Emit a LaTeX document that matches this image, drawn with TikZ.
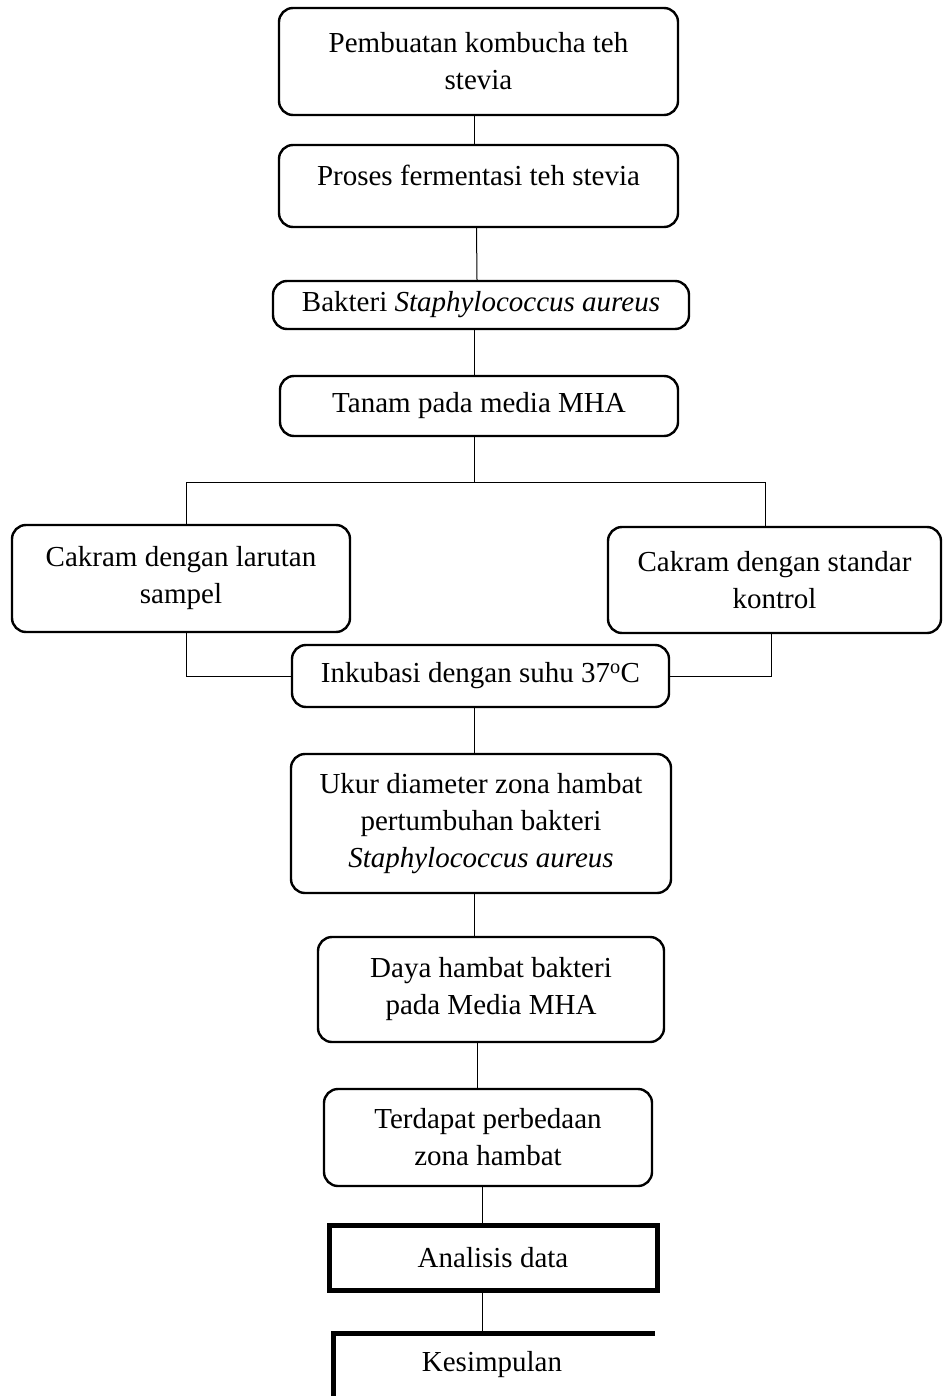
\documentclass[tikz,border=0pt]{standalone}
\usepackage{fontspec}
\setmainfont{Liberation Serif}
\begin{document}
\begin{tikzpicture}[x=1pt,y=-1pt,
  box/.style={draw, line width=2.4pt, rounded corners=14pt, align=center, inner sep=0pt,
    font=\fontsize{29}{37}\selectfont},
  sbox/.style={draw, line width=5pt, align=center, inner sep=0pt,
    font=\fontsize{29}{37}\selectfont},
  txt/.style={align=center, inner sep=0pt, font=\fontsize{29}{37}\selectfont},
  conn/.style={line width=1pt}]
\useasboundingbox (0,0) rectangle (943,1396);
\node[box, minimum width=399, minimum height=107] (b1) at (478.5,61.5) {Pembuatan kombucha teh\\stevia};
\node[box, minimum width=399, minimum height=82] (b2) at (478.5,186) {\raisebox{8pt}[0.7em][0.2em]{Proses fermentasi teh stevia}};
\node[box, minimum width=416, minimum height=48] (b3) at (481,305) {Bakteri \textit{Staphylococcus aureus}};
\node[box, minimum width=398, minimum height=60] (b4) at (479,406) {Tanam pada media MHA};
\node[box, minimum width=338, minimum height=107] (b5) at (181,578.5) {Cakram dengan larutan\\sampel};
\node[box, minimum width=333, minimum height=106] (b6) at (774.5,580) {Cakram dengan standar\\kontrol};
\node[box, minimum width=377, minimum height=62] (b7) at (480.5,676) {Inkubasi dengan suhu 37\textsuperscript{o}C};
\node[box, minimum width=380, minimum height=139] (b8) at (481,823.5) {Ukur diameter zona hambat\\pertumbuhan bakteri\\\textit{Staphylococcus aureus}};
\node[box, minimum width=346, minimum height=105] (b9) at (491,989.5) {Daya hambat bakteri\\pada Media MHA};
\node[box, minimum width=328, minimum height=97] (b10) at (488,1137.5) {Terdapat perbedaan\\zona hambat};
\node[sbox, minimum width=328, minimum height=65] (b11) at (493,1257.5) {Analisis data};
\node[txt] (b12) at (492,1365) {Kesimpulan};
\draw[line width=5pt] (333,1396) -- (333,1333) coordinate (kTL) -- (655,1333) coordinate (kTR);
\coordinate (kTop) at (482,1333);
% connectors
\draw[conn] ([xshift=-4]b1.south) -- ([xshift=-4]b2.north);
\draw[conn] ([xshift=-2]b2.south) -- ([xshift=-4]b3.north);
\draw[conn] ([xshift=-7]b3.south) -- ([xshift=-5]b4.north);
\draw[conn] ([xshift=-5]b4.south) -- ++(0,45) coordinate (split);
\draw[conn] ([xshift=5]b5.north) |- (split) -| ([xshift=-9]b6.north);
\draw[conn] ([xshift=5]b5.south) |- (b7.west);
\draw[conn] ([xshift=-3.5]b6.south) |- (b7.east);
\draw[conn] ([xshift=-6.5]b7.south) -- ([xshift=-7]b8.north);
\draw[conn] ([xshift=-7]b8.south) -- ([xshift=-17]b9.north);
\draw[conn] ([xshift=-14]b9.south) -- ([xshift=-11]b10.north);
\draw[conn] ([xshift=-6]b10.south) -- ([xshift=-11]b11.north);
\draw[conn] ([xshift=-11]b11.south) -- (kTop);
\end{tikzpicture}
\end{document}
